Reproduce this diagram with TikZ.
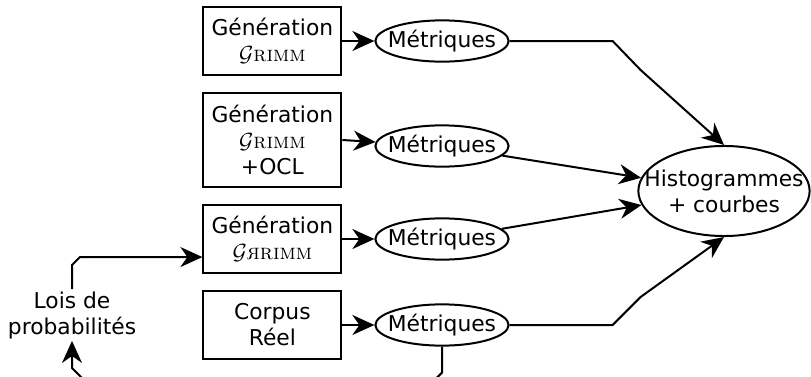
\documentclass[tikz,border=0pt]{standalone}
\usepackage{fontspec}
\usepackage{graphicx}
\usetikzlibrary{matrix, positioning, shapes.geometric, arrows.meta}
\newfontfamily\dejavu{DejaVu Sans}
\newcommand{\grimm}{$\mathcal{G}$\textrm{\textsc{rimm}}}
\newcommand{\grrimm}{$\mathcal{G}$\textrm{\textsc{\reflectbox{r}rimm}}}

\begin{document}
\begin{tikzpicture}[
    x=0.5pt, y=-0.5pt,
    every node/.style={font=\dejavu\fontsize{10.9}{13}\selectfont},
    box/.style={rectangle, draw, line width=1pt, minimum width=69pt, minimum height=34pt, align=center, inner sep=2pt},
    oval/.style={ellipse, draw, line width=1pt, align=center, inner xsep=-3.5pt, inner ysep=1.8pt},
    arrow/.style={-{Stealth[length=11pt, width=10pt, inset=3.5pt]}, line width=1pt}
  ]
    \useasboundingbox (0,0) rectangle (811,376);

    \matrix (grid) [row sep=8pt, column sep=16pt] at (356,183) {
      \node[box] (gen1) {Génération\\\grimm}; & \node[oval] (met1) {Métriques}; \\
      \node[box, minimum height=47pt] (gen2) {Génération\\\grimm\\+OCL}; & \node[oval, yshift=-3pt] (met2) {Métriques}; \\
      \node[box] (gen3) {Génération\\\grrimm}; & \node[oval] (met3) {Métriques}; \\
      \node[box] (gen4) {Corpus\\Réel}; & \node[oval] (met4) {Métriques}; \\
    };

    \node[oval, inner xsep=-9.5pt, inner ysep=5.2pt] (hist) at (724,191) {Histogrammes\\+ courbes};
    \node[inner sep=1pt, align=center] (lois) at (72,315) {Lois de\\probabilités};

    \foreach \i in {1,...,4}
      \draw[arrow] (gen\i.east) -- (met\i);

    \draw[arrow] (met1.east) -- ++(103,0) -- ++(28,29) -- (hist.north);
    \draw[arrow] (met2) -- (hist);
    \draw[arrow] (met3) -- (hist);
    \draw[arrow] (met4.east) -- ++(103,0) -- ++(28,-28) -- (hist.south);
    \draw[arrow] (lois.north) -- ++(0,-24) -- ++(8,-8) coordinate (bend) -- (bend -| gen3.west);
    \begin{scope}
      \clip (0,0) rectangle (811,376);
      \draw[arrow] (met4.south) -- ++(0,26) -- ++(-14,14) -- (86,382) -- (72,368) -- (lois.south);
    \end{scope}

  \end{tikzpicture}
\end{document}
